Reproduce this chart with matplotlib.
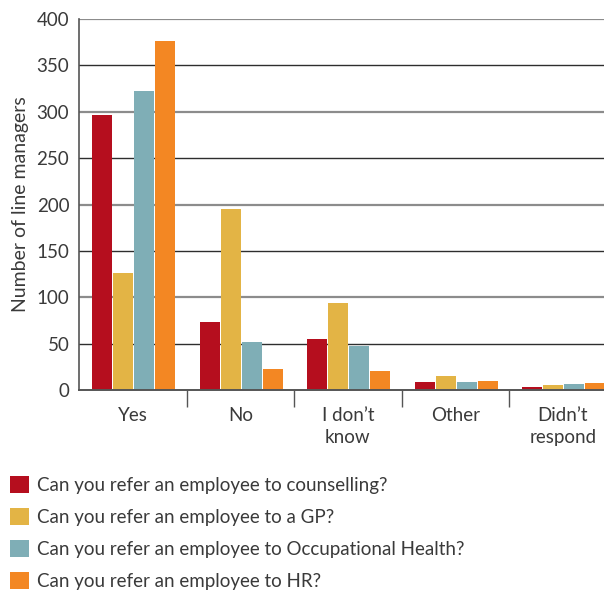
import matplotlib
matplotlib.use("Agg")
import matplotlib.pyplot as plt
import numpy as np

categories = ["Yes", "No", "I don\u2019t\nknow", "Other", "Didn\u2019t\nrespond"]
series_labels = [
    "Can you refer an employee to counselling?",
    "Can you refer an employee to a GP?",
    "Can you refer an employee to Occupational Health?",
    "Can you refer an employee to HR?",
]
counselling = [297, 73, 55, 9, 3]
gp = [126, 195, 94, 15, 5]
occupational_health = [322, 52, 47, 9, 7]
hr = [376, 23, 21, 10, 8]
y_ticks = [0, 50, 100, 150, 200, 250, 300, 350, 400]

colors = ["#B50E1E", "#E3B445", "#7FAEB6", "#F38723"]
series = [counselling, gp, occupational_health, hr]

plt.rcParams["font.family"] = ["Lato", "DejaVu Sans"]
text_color = "#3a3a3a"

fig = plt.figure(figsize=(6.04, 5.92), dpi=100)
W, H = 604, 592
ax = fig.add_axes([79 / W, 1 - 390 / H, 525 / W, 371 / H])

x = np.arange(len(categories))
step = 0.195
width = 0.186
handles = []
for i, (vals, col, lab) in enumerate(zip(series, colors, series_labels)):
    b = ax.bar(x + (i - 1.5) * step + 0.01, vals, width=width, color=col,
               label=lab, zorder=3)
    handles.append(b)

ax.set_xlim(-0.5, -0.5 + 525 / 107.5)
ax.set_ylim(0, 400)
ax.set_yticks(y_ticks)
ax.set_yticklabels([str(v) for v in y_ticks])

# alternating gridlines: grey at hundreds, dark at fifties
for v in y_ticks[1:]:
    if v % 100 == 0:
        ax.axhline(v, color="#8c8c8c", lw=1.6, zorder=1)
    else:
        ax.axhline(v, color="#2e2e2e", lw=1.0, zorder=1)

for s in ["top", "right"]:
    ax.spines[s].set_visible(False)
ax.spines["left"].set_color("#555555")
ax.spines["bottom"].set_color("#555555")
ax.spines["left"].set_linewidth(1.2)
ax.spines["bottom"].set_linewidth(1.4)
ax.spines["bottom"].set_zorder(4)

ax.tick_params(axis="y", length=0, pad=7, labelsize=13.5, labelcolor=text_color)
ax.set_xticks(x)
ax.set_xticklabels(categories, fontsize=13.5, color=text_color, linespacing=1.35)
ax.tick_params(axis="x", length=0, pad=12)
ax.set_xticks(np.arange(0.5, len(categories) - 0.5), minor=True)
ax.tick_params(axis="x", which="minor", length=12, width=1.0, color="#555555")

ax.set_ylabel("Number of line managers", fontsize=14, color=text_color, labelpad=5)

leg = fig.legend(handles=handles, labels=series_labels, loc="upper left",
                 bbox_to_anchor=(10 / W, 1 - 476 / H), frameon=False,
                 fontsize=13.5, handlelength=1.0, handleheight=1.05,
                 handletextpad=0.42, labelspacing=0.74, borderpad=0,
                 borderaxespad=0)
for t in leg.get_texts():
    t.set_color(text_color)

fig.savefig("out.png", dpi=100)
